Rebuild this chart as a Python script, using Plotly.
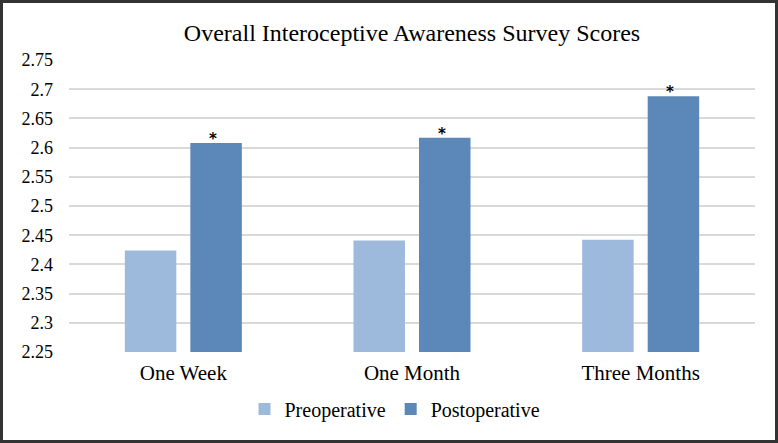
import plotly.graph_objects as go

categories = ["One Week", "One Month", "Three Months"]
preoperative = [2.424, 2.441, 2.442]
postoperative = [2.608, 2.617, 2.688]
significance = ["*", "*", "*"]
y_ticks = [2.25, 2.3, 2.35, 2.4, 2.45, 2.5, 2.55, 2.6, 2.65, 2.7, 2.75]
y_tick_text = ["2.25", "2.3", "2.35", "2.4", "2.45", "2.5", "2.55", "2.6", "2.65", "2.7", "2.75"]

W, H = 778, 443
ML, MR, MT, MB = 69, 23, 60, 91
PW, PH = W - ML - MR, H - MT - MB
BARGAP, GROUPGAP = 0.427, 0.214

FONT = "Liberation Serif, Times New Roman, serif"

fig = go.Figure()
fig.add_trace(go.Bar(
    x=categories, y=preoperative, name="Preoperative",
    marker=dict(color="#9dbadd", line=dict(width=0)),
))
fig.add_trace(go.Bar(
    x=categories, y=postoperative, name="Postoperative",
    marker=dict(color="#5b88b9", line=dict(width=0)),
))

# significance markers above the postoperative bars
slot_px = PW / len(categories) * (1 - BARGAP) / 2
for cat, val, s in zip(categories, postoperative, significance):
    fig.add_annotation(
        x=cat, y=val, xref="x", yref="y", text=s, showarrow=False,
        xanchor="center", yanchor="bottom", xshift=slot_px / 2 - 3, yshift=-7,
        font=dict(size=15, color="black", family="DejaVu Sans", weight="bold"),
    )

# outer frame
b = 1.5
fig.add_shape(
    type="rect", xref="paper", yref="paper",
    x0=(-ML + b) / PW, x1=1 + (MR - b) / PW,
    y0=(-MB + b) / PH, y1=1 + (MT - b) / PH,
    line=dict(color="#333333", width=3), fillcolor="rgba(0,0,0,0)", layer="above",
)

fig.update_layout(
    width=W, height=H,
    margin=dict(l=ML, r=MR, t=MT, b=MB, pad=0),
    paper_bgcolor="white", plot_bgcolor="white",
    barmode="group", bargap=BARGAP, bargroupgap=GROUPGAP,
    font=dict(family=FONT, color="black", size=18),
    title=dict(text="Overall Interoceptive Awareness Survey Scores",
               x=0.5, xanchor="center", xref="paper", y=1 - 33 / H, yanchor="middle",
               font=dict(family=FONT, size=24, color="black")),
    showlegend=True,
    legend=dict(orientation="h", x=(395 - ML) / PW, xanchor="center", y=(352 - 409) / PH, yanchor="middle",
                font=dict(family=FONT, size=20, color="black"),
                itemwidth=30, traceorder="normal"),
    yaxis=dict(range=[2.25, 2.75], tickvals=y_ticks, ticktext=y_tick_text,
               showgrid=True, gridcolor="#d9d9d9", gridwidth=1.5,
               zeroline=False, showline=False, ticks="", ticklabelstandoff=15,
               tickfont=dict(family=FONT, size=18, color="black")),
    xaxis=dict(showline=False, ticks="", showgrid=False, ticklabelstandoff=6,
               tickfont=dict(family=FONT, size=21, color="black")),
)

fig.write_html("out.html")
